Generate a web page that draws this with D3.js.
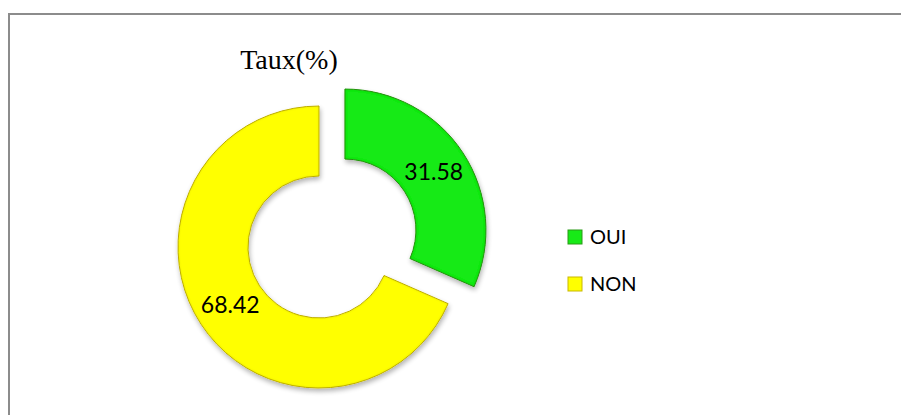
<!DOCTYPE html>
<html>
<head>
<meta charset="utf-8">
<script src="https://cdn.jsdelivr.net/npm/d3@7"></script>
<style>
  body { margin: 0; background: #fff; }
</style>
</head>
<body>
<svg id="chart" width="901" height="415"></svg>
<script>
let svg = d3.select("#chart");

//! DATA
let categories = ["OUI", "NON"];
let values = [31.58, 68.42];
let colors = ["#17ea17", "#ffff00"];
let edgeColors = ["#2a9a16", "#c9b800"];
let title = "Taux(%)";

// frame
svg.append("path")
    .attr("d", "M9,415 V14 H901")
    .attr("fill", "none")
    .attr("stroke", "#8c8c8c")
    .attr("stroke-width", 2);

// filters: drop shadow + soft inner bevel
let defs = svg.append("defs");
let shadow = defs.append("filter").attr("id", "shadow")
    .attr("x", "-20%").attr("y", "-20%").attr("width", "140%").attr("height", "140%");
shadow.append("feGaussianBlur").attr("in", "SourceAlpha").attr("stdDeviation", 2.5).attr("result", "blur");
shadow.append("feOffset").attr("in", "blur").attr("dx", 1).attr("dy", 3).attr("result", "off");
shadow.append("feComponentTransfer").attr("in", "off").attr("result", "drop")
    .append("feFuncA").attr("type", "linear").attr("slope", 0.3);
// inner edge darkening
shadow.append("feGaussianBlur").attr("in", "SourceAlpha").attr("stdDeviation", 1.5).attr("result", "ib");
shadow.append("feComposite").attr("in", "SourceAlpha").attr("in2", "ib")
    .attr("operator", "arithmetic").attr("k2", 1).attr("k3", -1).attr("result", "edge");
shadow.append("feFlood").attr("flood-color", "#000").attr("flood-opacity", 0.35).attr("result", "dark");
shadow.append("feComposite").attr("in", "dark").attr("in2", "edge").attr("operator", "in").attr("result", "edgeDark");
let merge = shadow.append("feMerge");
merge.append("feMergeNode").attr("in", "drop");
merge.append("feMergeNode").attr("in", "SourceGraphic");
merge.append("feMergeNode").attr("in", "edgeDark");

let cx = 319, cy = 247;
let outerR = 141, innerR = 71, explode = 31;

let pie = d3.pie().sort(null).value(d => d.value);
let arc = d3.arc().innerRadius(innerR).outerRadius(outerR);

let data = categories.map((c, i) => ({ name: c, value: values[i], i: i }));
let arcs = pie(data);

let pieG = svg.append("g").attr("transform", `translate(${cx},${cy})`);

let slice = pieG.selectAll("g.slice")
    .data(arcs)
    .enter()
    .append("g")
    .attr("class", "slice")
    .attr("transform", function (d) {
        if (d.data.i !== 0) return null;
        let mid = (d.startAngle + d.endAngle) / 2;
        return `translate(${explode * Math.sin(mid)},${-explode * Math.cos(mid)})`;
    });

slice.append("path")
    .attr("d", arc)
    .attr("fill", d => colors[d.data.i])
    .attr("stroke", d => edgeColors[d.data.i])
    .attr("stroke-width", 1)
    .attr("filter", "url(#shadow)");

slice.append("text")
    .attr("transform", d => `translate(${arc.centroid(d)})`)
    .attr("text-anchor", "middle")
    .attr("dy", "0.36em")
    .attr("font-family", "Lato, 'Open Sans', sans-serif")
    .attr("font-size", 23)
    .attr("fill", "#000")
    .text(d => d.data.value.toFixed(2));

// title
svg.append("text")
    .attr("x", 289)
    .attr("y", 69)
    .attr("text-anchor", "middle")
    .attr("font-family", "'Liberation Serif', 'Times New Roman', serif")
    .attr("font-size", 28)
    .attr("fill", "#000")
    .text(title);

// legend
let legend = svg.append("g").attr("transform", "translate(568,230)");
let item = legend.selectAll("g")
    .data(categories)
    .enter()
    .append("g")
    .attr("transform", (d, i) => `translate(0,${i * 47})`);

item.append("rect")
    .attr("width", 14)
    .attr("height", 14)
    .attr("fill", (d, i) => colors[i])
    .attr("stroke", (d, i) => edgeColors[i])
    .attr("stroke-width", 1);

item.append("text")
    .attr("x", 22)
    .attr("y", 14)
    .attr("font-family", "Lato, 'Open Sans', sans-serif")
    .attr("font-size", 20)
    .attr("fill", "#000")
    .text(d => d);
</script>
</body>
</html>
